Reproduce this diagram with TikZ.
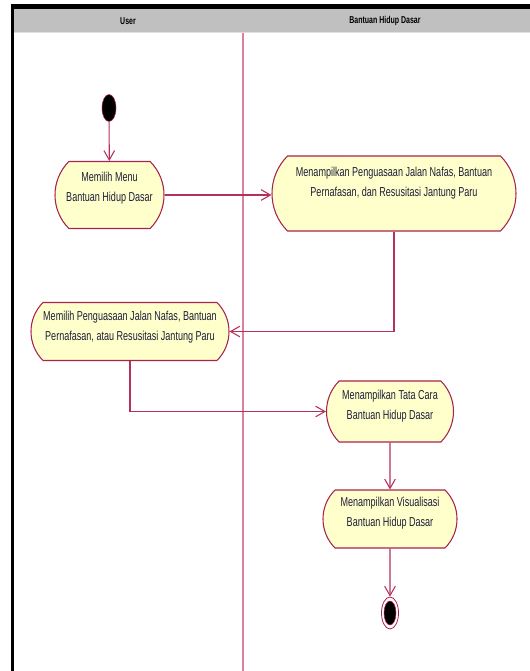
\documentclass[tikz,border=0pt]{standalone}
\usepackage{fontspec}
\setmainfont{Liberation Sans}[FakeStretch=0.7]
\usepackage{xcolor}
\definecolor{actFill}{HTML}{FFFFCC}
\definecolor{actLine}{HTML}{A8234F}
\definecolor{flowLine}{HTML}{B5305A}
\definecolor{laneLine}{HTML}{D9829F}
\definecolor{headGray}{HTML}{C0C0C0}
\definecolor{actText}{HTML}{1E1E3A}
\usetikzlibrary{shapes.misc, shapes.geometric, arrows.meta}

\begin{document}
\begin{tikzpicture}[x=0.75pt, y=-0.75pt,
  activity/.style={rounded rectangle, rounded rectangle arc length=90,
    draw=actLine, fill=actFill, line width=0.8pt, inner sep=0pt,
    align=center, text=actText, font=\fontsize{9.7}{15}\selectfont,
    text depth=10.5pt},
  lanehead/.style={font=\fontsize{7.5}{9}\selectfont\bfseries, text=black},
  flow/.style={draw=flowLine, line width=0.8pt,
    -{Straight Barb[length=7pt, width=8pt]}}]
  \useasboundingbox (0,0) rectangle (530,671);
  % swimlanes
  \fill[black] (11,4) rectangle (530,9);
  \fill[black] (11,4) rectangle (14,671);
  \fill[headGray] (14,9) rectangle (530,32);
  \draw[gray!25, line width=0.8pt] (14,32.5) -- (530,32.5);
  \node[lanehead] (userLane) at (128,21) {User};
  \node[lanehead] (bhdLane) at (385,21) {Bantuan Hidup Dasar};
  \draw[laneLine, line width=0.8pt] (243,33) -- (243,671);
  % activities
  \node[ellipse, fill=black, draw=actLine, minimum width=10.5pt, minimum height=20.25pt, inner sep=0pt] (start) at (109,108) {};
  \node[activity, minimum width=81.75pt, minimum height=50.25pt, text depth=13pt] (pilihMenu) at (109.5,195) {Memilih Menu\\Bantuan Hidup Dasar};
  \node[activity, minimum width=183pt, minimum height=56.25pt, text depth=18pt] (tampilPilihan) at (394,193.5) {Menampilkan Penguasaan Jalan Nafas, Bantuan\\Pernafasan, dan Resusitasi Jantung Paru};
  \node[activity, minimum width=148.5pt, minimum height=43.5pt, text depth=8.5pt] (pilihMateri) at (130,331.5) {Memilih Penguasaan Jalan Nafas, Bantuan\\Pernafasan, atau Resusitasi Jantung Paru};
  \node[activity, minimum width=95.25pt, minimum height=45.75pt] (tampilTataCara) at (390,411.5) {Menampilkan Tata Cara\\Bantuan Hidup Dasar};
  \node[activity, minimum width=100.5pt, minimum height=43.5pt] (tampilVisual) at (390,519) {Menampilkan Visualisasi\\Bantuan Hidup Dasar};
  \node[ellipse, draw=actLine, fill=white, line width=0.6pt, minimum width=12.75pt, minimum height=24pt, inner sep=0pt] (stop) at (390,613) {};
  \node[ellipse, fill=black, draw=actLine, minimum width=9pt, minimum height=18pt, inner sep=0pt] (stopDot) at (stop.center) {};
  % transitions
  \draw[flow] (start) -- (pilihMenu);
  \draw[flow] (pilihMenu.east) -- (tampilPilihan.west |- pilihMenu.east);
  \draw[flow] (tampilPilihan.south) -- (tampilPilihan.south |- pilihMateri.east) -- (pilihMateri.east);
  \draw[flow] (pilihMateri.south) -- (pilihMateri.south |- tampilTataCara.west) -- (tampilTataCara.west);
  \draw[flow] (tampilTataCara) -- (tampilVisual);
  \draw[flow] (tampilVisual) -- (stop);
\end{tikzpicture}
\end{document}
